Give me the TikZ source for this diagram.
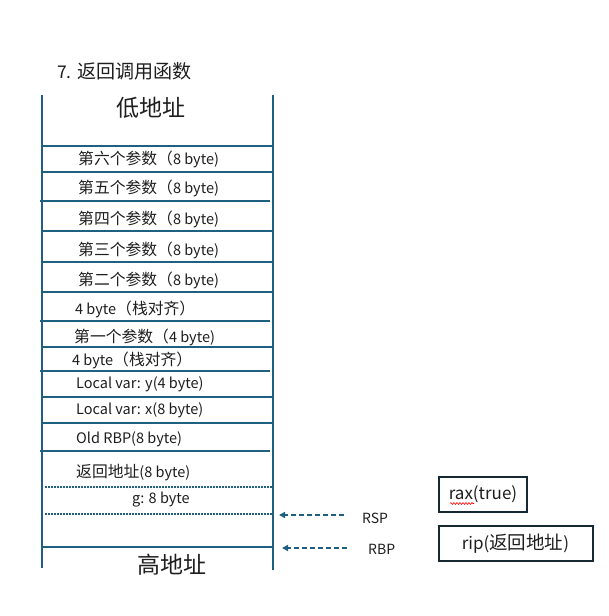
\documentclass[tikz,border=0pt]{standalone}
\usepackage{fontspec}
\setmainfont{Noto Sans CJK SC}
\newfontfamily\cjk[Scale=1.09]{Noto Sans CJK SC}
\usetikzlibrary{arrows.meta,decorations.pathmorphing}
\definecolor{stackblue}{RGB}{31,95,128}
\definecolor{txt}{RGB}{30,30,30}
\definecolor{boxdark}{RGB}{22,40,50}
\tikzset{
  wall/.style={draw=stackblue,line width=2pt},
  sep/.style={draw=stackblue,line width=2pt},
  dotsep/.style={draw=stackblue,line width=1.6pt,dash pattern=on 1.6pt off 1.4pt},
  cell/.style={anchor=west,inner sep=0pt,text=txt,font=\fontsize{14.5}{16}\selectfont,yshift=-1.5pt},
  big/.style={inner sep=0pt,text=txt,font=\fontsize{23}{26}\selectfont},
  ptr/.style={draw=stackblue,line width=1.5pt,dash pattern=on 5pt off 3pt,-{Triangle[length=6pt,width=6pt]}},
  reglab/.style={inner sep=0pt,text=txt,font=\fontsize{14}{16}\selectfont},
  regbox/.style={draw=boxdark,line width=2pt,text=txt,font=\fontsize{17}{20}\selectfont,inner sep=0pt,minimum height=35pt}
}
\begin{document}
\begin{tikzpicture}[x=1pt,y=-1pt]
\useasboundingbox (0,0) rectangle (609,616);
% title
\node[anchor=west,inner sep=0pt,text=txt,font=\fontsize{17.5}{20}\selectfont] (title) at (57,71) {7. {\cjk 返回调用函数}};
% walls
\coordinate (lt) at (42,95); \coordinate (lb) at (42,568);
\coordinate (rt) at (273,95); \coordinate (rb) at (273,570);
\draw[wall] (lt) -- (lb);
\draw[wall] (rt) -- (rb);
% separators
\foreach \y/\a/\b in {146/42/273,172/42/273,201/40/270,231/42/273,262/42/273,292/42/273,321/40/270,347/42/273,371/40/270,397/42/273,423/42/273,451/40/270,547/42/273}{
  \draw[sep] (\a,\y) -- (\b,\y);
}
\draw[dotsep] (45,487) -- (272,487);
\draw[dotsep] (45,514) -- (272,514);
% labels
\node[big] (low) at (151,108) {低地址};
\node[cell] (p6) at (78,158) {{\cjk 第六个参数（}8 byte)};
\node[cell] (p5) at (78,187) {{\cjk 第五个参数（}8 byte)};
\node[cell] (p4) at (78,218) {{\cjk 第四个参数（}8 byte)};
\node[cell] (p3) at (78,249) {{\cjk 第三个参数（}8 byte)};
\node[cell] (p2) at (78,279) {{\cjk 第二个参数（}8 byte)};
\node[cell] (al1) at (75,308) {4 byte{\cjk（栈对齐）}};
\node[cell] (p1) at (74,336) {{\cjk 第一个参数（}4 byte)};
\node[cell] (al2) at (72,359) {4 byte{\cjk（栈对齐）}};
\node[cell] (ly) at (76,383) {Local var: y(4 byte)};
\node[cell] (lx) at (76,409) {Local var: x(8 byte)};
\node[cell] (orbp) at (76,438) {Old RBP(8 byte)};
\node[cell] (ret) at (76,471) {{\cjk 返回地址}(8 byte)};
\node[cell] (g) at (132,498) {g: 8 byte};
\node[big] (high) at (172,565) {高地址};
% pointers
\coordinate (rspfrom) at (344,515); \coordinate (rspto) at (279,515);
\coordinate (rbpfrom) at (347,548); \coordinate (rbpto) at (282,548);
\draw[ptr] (rspfrom) -- (rspto);
\draw[ptr] (rbpfrom) -- (rbpto);
\node[reglab,anchor=west] (rsp) at (362,518) {RSP};
\node[reglab,anchor=west] (rbp) at (368,549) {RBP};
% register boxes
\node[regbox,minimum width=88pt] (rax) at (483,494.5) {rax(true)};
\node[regbox,minimum width=154pt] (rip) at (515.5,543.2) {rip({\cjk 返回地址})};
\draw[red,line width=0.6pt,decorate,decoration={snake,amplitude=0.9pt,segment length=3pt}] (450,503.5) -- (474,503.5);
\end{tikzpicture}
\end{document}
